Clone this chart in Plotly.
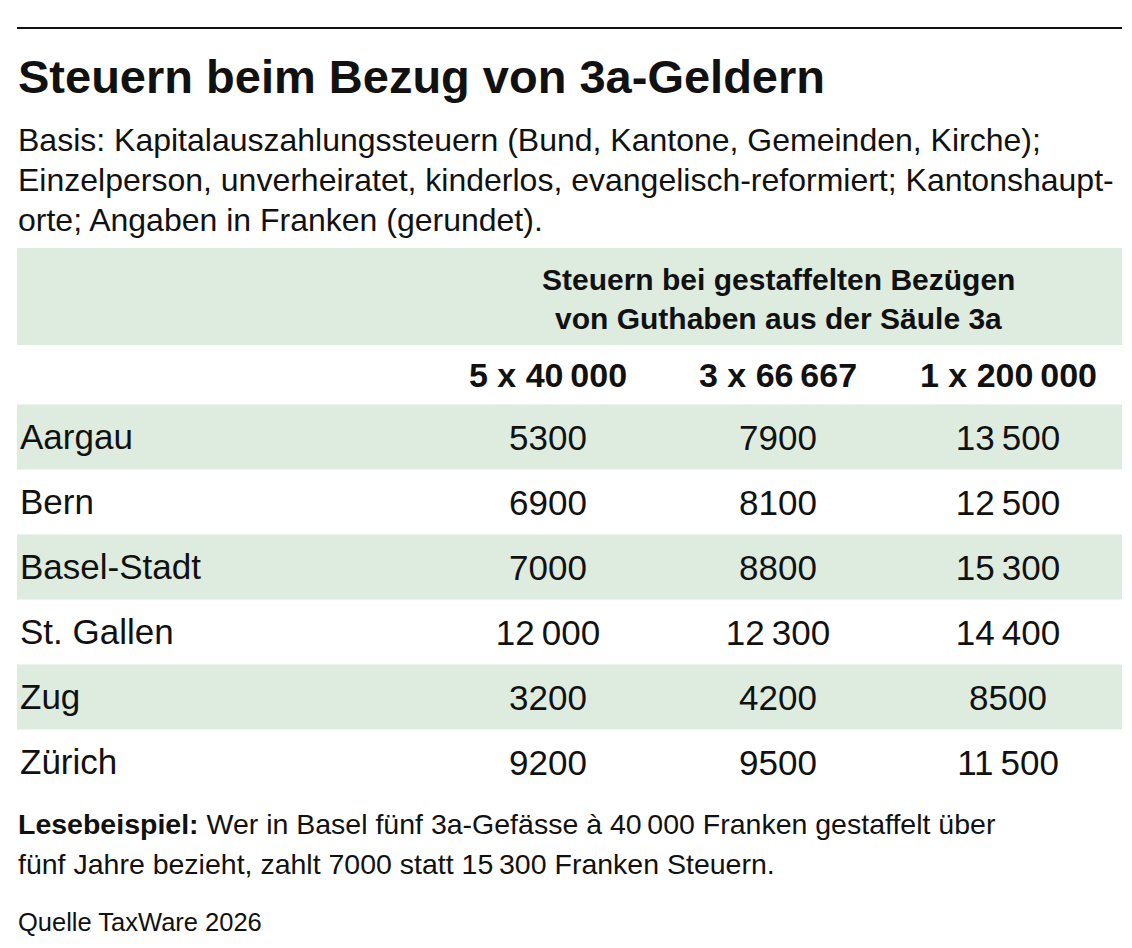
import plotly.graph_objects as go

W, H = 1132, 948
OFF = 8  # the page body adds 8px around the figure
FONT = 'Liberation Sans, Arial, sans-serif'
GREEN = '#deece0'

# texts
title = 'Steuern beim Bezug von 3a-Geldern'
subtitle = ['Basis: Kapitalauszahlungssteuern (Bund, Kantone, Gemeinden, Kirche);',
            'Einzelperson, unverheiratet, kinderlos, evangelisch-reformiert; Kantonshaupt-',
            'orte; Angaben in Franken (gerundet).']
group_head = ['Steuern bei gestaffelten Bezügen', 'von Guthaben aus der Säule 3a']
note = ['<b>Lesebeispiel:</b> Wer in Basel fünf 3a-Gefässe à 40\u2009000 Franken gestaffelt über',
        'fünf Jahre bezieht, zahlt 7000 statt 15\u2009300 Franken Steuern.']
source = 'Quelle TaxWare 2026'

# data
columns = ['5 x 40\u2009000', '3 x 66\u2009667', '1 x 200\u2009000']
cantons = ['Aargau', 'Bern', 'Basel-Stadt', 'St. Gallen', 'Zug', 'Zürich']
staffel_5x = [5300, 6900, 7000, 12000, 3200, 9200]
staffel_3x = [7900, 8100, 8800, 12300, 4200, 9500]
einmal_1x = [13500, 12500, 15300, 14400, 8500, 11500]
series = [staffel_5x, staffel_3x, einmal_1x]


def fmt(v):
  s = str(v)
  if len(s) > 4:
    s = s[:-3] + '\u2009' + s[-3:]
  return s


def py(p):  # pixel from top -> paper
  return 1 - (p - OFF) / H


def px(p):
  return (p - OFF) / W


ROW0, ROW_H = 437, 65
rows = list(range(len(cantons)))
fig = go.Figure()
for j, (col, vals) in enumerate(zip(columns, series), start = 1):
  fig.add_trace(go.Scatter(x = [j] * len(vals), y = rows, mode = 'text', name = col,
                           text = [fmt(v) for v in vals], textposition = 'middle center',
                           textfont = dict(family = FONT, size = 35, color = '#111'),
                           hoverinfo = 'skip'))

# row stripes
shapes = [dict(type = 'rect', xref = 'paper', yref = 'paper', x0 = px(17), x1 = px(1122),
               y0 = py(345), y1 = py(248), fillcolor = GREEN, line_width = 0, layer = 'below'),
          dict(type = 'line', xref = 'paper', yref = 'paper', x0 = px(17), x1 = px(1122),
               y0 = py(28), y1 = py(28), line = dict(color = '#111', width = 2))]
for i in rows[::2]:
  shapes.append(dict(type = 'rect', xref = 'paper', yref = 'y2', x0 = px(17), x1 = px(1122),
                     y0 = i - 0.5, y1 = i + 0.5, fillcolor = GREEN, line_width = 0, layer = 'below'))

ann = [dict(text = title, x = px(16), y = py(77), font = dict(size = 47, weight = 700))]
for k, line in enumerate(subtitle):
  ann.append(dict(text = line, x = px(16), y = py(140 + 40 * k), font = dict(size = 32)))
for k, line in enumerate(group_head):
  ann.append(dict(text = line, xref = 'x', x = 2, xanchor = 'center', y = py(279 + 39 * k),
                  font = dict(size = 30, weight = 700)))
for j, col in enumerate(columns, start = 1):
  ann.append(dict(text = col, xref = 'x', x = j, xanchor = 'center', y = py(375),
                  font = dict(size = 34, weight = 700)))
for k, line in enumerate(note):
  ann.append(dict(text = line, x = px(16), y = py(824 + 40 * k), font = dict(size = 28.5)))
ann.append(dict(text = source, x = px(16), y = py(922), font = dict(size = 25.5)))
for a in ann:
  a.setdefault('xref', 'paper')
  a.setdefault('xanchor', 'left')
  a.update(yref = 'paper', yanchor = 'middle', showarrow = False)
  a['font'] = dict(family = FONT, color = '#111', **a['font'])

unit = 230
# values axis sits 4px lower than the row grid so digits look centred in the stripes
val_c = ROW0 + 4
fig.update_layout(
  width = W, height = H, margin = dict(l = 0, r = 0, t = 0, b = 0),
  paper_bgcolor = 'white', plot_bgcolor = 'rgba(0,0,0,0)', showlegend = False,
  shapes = shapes, annotations = ann,
  xaxis = dict(domain = [px(17), px(1122)], range = [1 - (548 - 17) / unit, 3 + (1122 - 1008) / unit],
               visible = False, fixedrange = True),
  yaxis = dict(domain = [0, 1], range = [(H + OFF - val_c) / ROW_H, (OFF - val_c) / ROW_H],
               visible = False, fixedrange = True),
  yaxis2 = dict(domain = [0, 1], overlaying = 'y', anchor = 'x', side = 'left',
                range = [(H + OFF - ROW0) / ROW_H, (OFF - ROW0) / ROW_H], showgrid = False, zeroline = False,
                showline = False, ticks = '', tickvals = rows, ticktext = cantons,
                ticklabelposition = 'inside', tickfont = dict(family = FONT, size = 35, color = '#111'),
                fixedrange = True),
)

fig.write_html('out.html')
